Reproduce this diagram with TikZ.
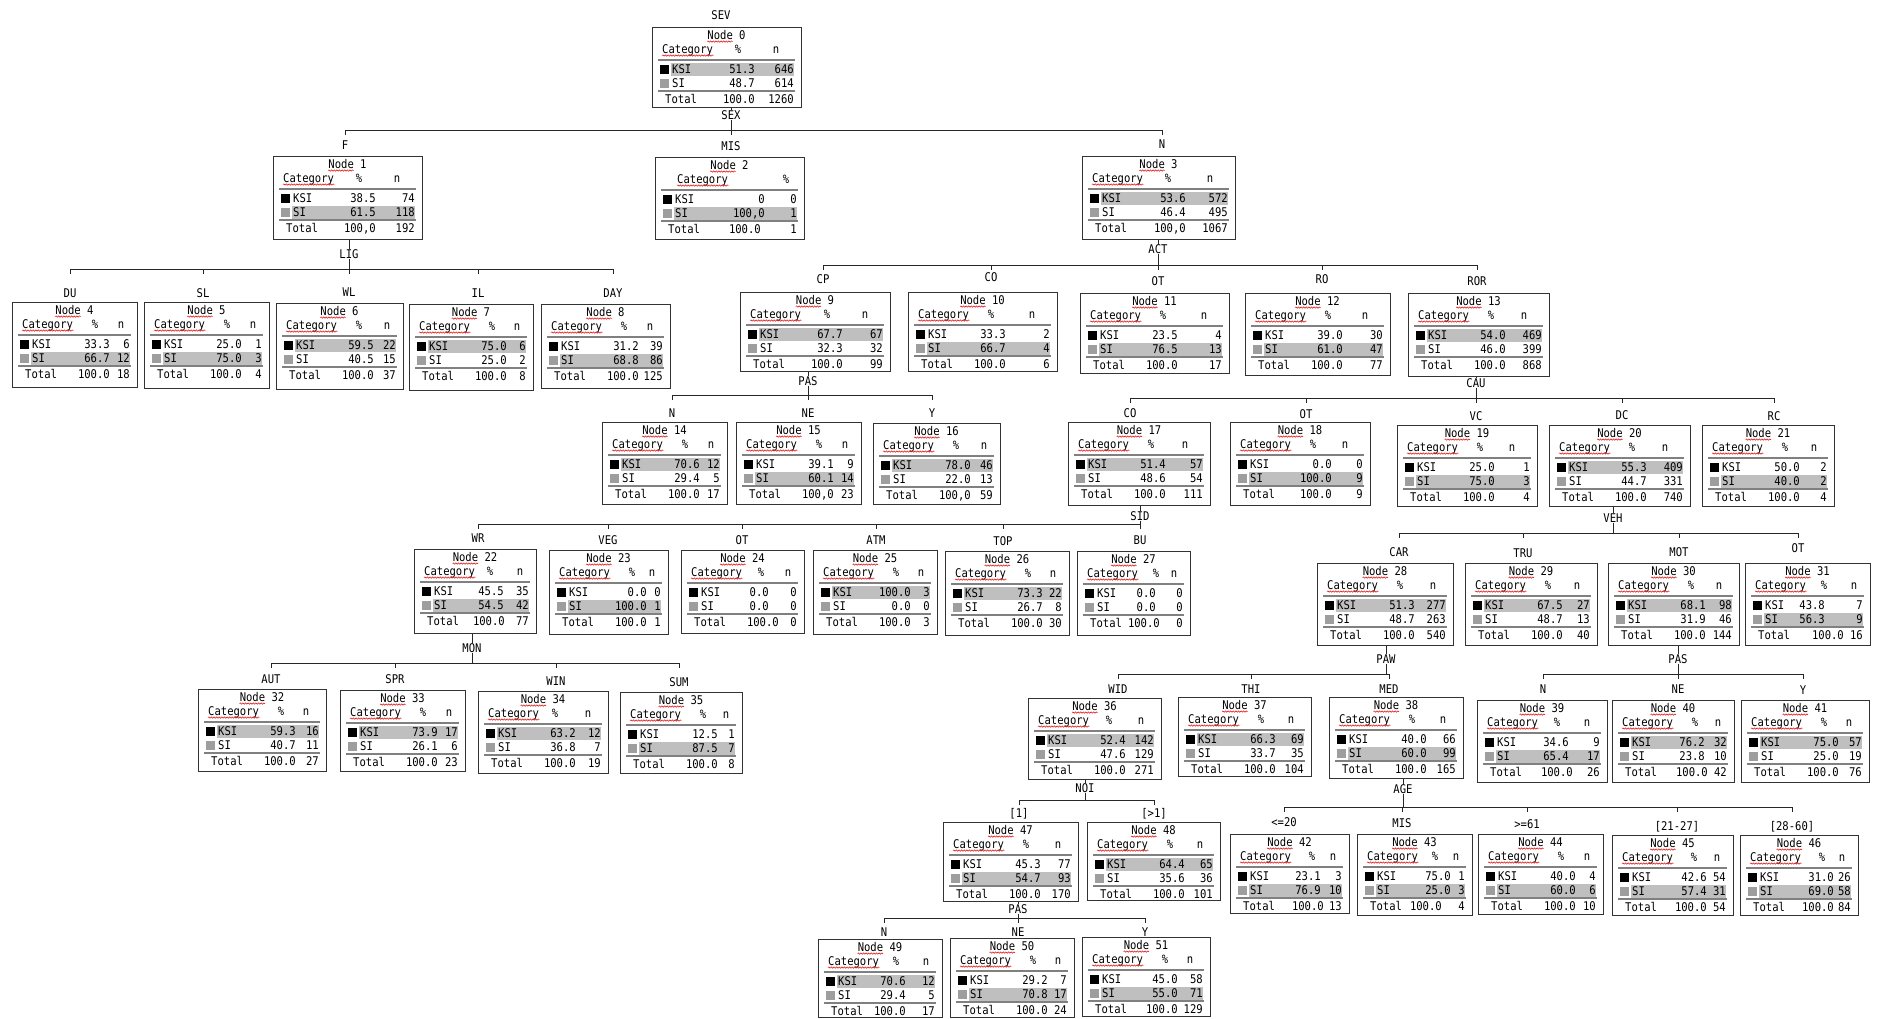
\documentclass[tikz,border=0pt]{standalone}
\usepackage{fontspec}
\newfontfamily\boxfont[FakeStretch=0.88]{DejaVu Sans Mono}
\usetikzlibrary{decorations.pathmorphing}
\tikzset{
  tbframe/.style={draw=black!80, line width=1.3pt, inner sep=0pt},
  txt/.style={font=\boxfont\fontsize{12pt}{12pt}\selectfont, inner sep=0pt, text height=8.7pt, text depth=0pt},
  conn/.style={draw=black!85, line width=1pt},
  tbrule/.style={draw=black!50, line width=2pt},
  tbhl/.style={fill=black!25},
  squig/.style={draw=red!90!black, line width=0.5pt, decorate, decoration={snake, amplitude=0.7pt, segment length=2.6pt}},
}
\newcommand\setcols[3]{\def\pctoff{#1}\def\totoff{#2}\def\pcthd{#3}}
\newcommand\resetcols{\setcols{98}{98}{83}}
\resetcols
\def\parsedata#1/#2/#3/#4/#5/#6\relax{\def\dA{#1}\def\dB{#2}\def\dC{#3}\def\dD{#4}\def\dE{#5}\def\dF{#6}}
% id L T R B highlight data header
\newcommand\treebox[8]{%
  \parsedata#7\relax
  \pgfmathsetmacro\tbW{#4-#2}\pgfmathsetmacro\tbH{#5-#3}%
  \pgfmathsetmacro\nhdv{\tbW<128?16:(\tbW<140?20:25)}%
  \ifnum#6=1 \fill[tbhl] (#2+19,#3+35.5) rectangle (#4-7,#3+48.5);\fi
  \ifnum#6=2 \fill[tbhl] (#2+19,#3+49.5) rectangle (#4-7,#3+62.5);\fi
  \node[tbframe, minimum width=\tbW pt, minimum height=\tbH pt, anchor=north west] (n#1) at (#2,#3) {};
  \node[txt] (t#1) at ({(#2+#4)/2},#3+8) {Node #1};
  \draw[squig] ([yshift=-2pt]t#1.south west) -- ++(25.5,0);
  \ifnum#8=0
    \node[txt, anchor=west] (k#1) at (#2+10,#3+22) {Category};
    \node[txt] at (#2+\pcthd,#3+22) {\%};
    \node[txt] at (#4-\nhdv,#3+22) {n};
  \else
    \node[txt, anchor=west] (k#1) at (#2+22,#3+22) {Category};
    \node[txt] at (#4-18,#3+22) {\%};
  \fi
  \draw[squig] ([yshift=-2pt]k#1.south west) -- ([yshift=-2pt]k#1.south east);
  \draw[tbrule] (#2+6,#3+33) -- (#4-6,#3+33);
  \draw[tbrule] (#2+6,#3+63.5) -- (#4-6,#3+63.5);
  \fill[black] (#2+8,#3+37.5) rectangle (#2+17,#3+46.5);
  \fill[black!38] (#2+8,#3+51.5) rectangle (#2+17,#3+60.5);
  \node[txt, anchor=west] at (#2+20,#3+42) {KSI};
  \node[txt, anchor=east] at (#2+\pctoff,#3+42) {\dA};
  \node[txt, anchor=east] at (#4-7,#3+42) {\dB};
  \node[txt, anchor=west] at (#2+20,#3+56) {SI};
  \node[txt, anchor=east] at (#2+\pctoff,#3+56) {\dC};
  \node[txt, anchor=east] at (#4-7,#3+56) {\dD};
  \node[txt, anchor=west] at (#2+13,#3+72) {Total};
  \node[txt, anchor=east] at (#2+\totoff,#3+72) {\dE};
  \node[txt, anchor=east] at (#4-7,#3+72) {\dF};
}
% parent, bar y, first child, last child, all children
\newcommand\splitconn[5]{%
  \coordinate (b#1) at (0,#2);
  \draw[conn] (s#1.north |- n#1.south) -- (s#1.north);
  \draw[conn] (s#1.south) -- (s#1.south |- b#1);
  \draw[conn] (e#3.north |- b#1) -- (e#4.north |- b#1);
  \foreach \c in {#5} {\draw[conn] (e\c.north |- b#1) -- ++(0,5);}
}
\begin{document}
\begin{tikzpicture}[x=1pt,y=-1pt]
\useasboundingbox (0,0) rectangle (1881,1018);
\fill[white] (0,0) rectangle (1881,1018);

% ---------- boxes ----------
\setcols{103}{103}{86}
\treebox{0}{652}{27}{801}{107}{1}{51.3/646/48.7/614/100.0/1260}{0}
\treebox{1}{273}{156}{422}{239}{2}{38.5/74/61.5/118/100,0/192}{0}
\setcols{110}{106}{86}
\treebox{2}{655}{157}{804}{239}{2}{0/0/100,0/1/100.0/1}{1}
\setcols{104}{104}{86}
\treebox{3}{1082}{156}{1235}{239}{1}{53.6/572/46.4/495/100,0/1067}{0}
\resetcols
\treebox{4}{12}{302}{137}{387}{2}{33.3/6/66.7/12/100.0/18}{0}
\treebox{5}{144}{302}{269}{388}{2}{25.0/1/75.0/3/100.0/4}{0}
\treebox{6}{276}{303}{403}{389}{1}{59.5/22/40.5/15/100.0/37}{0}
\treebox{7}{409}{304}{533}{390}{1}{75.0/6/25.0/2/100.0/8}{0}
\treebox{8}{541}{304}{670}{388}{2}{31.2/39/68.8/86/100.0/125}{0}
\setcols{103}{103}{87}
\treebox{9}{740}{292}{890}{371}{1}{67.7/67/32.3/32/100.0/99}{0}
\resetcols
\treebox{10}{908}{292}{1057}{371}{2}{33.3/2/66.7/4/100.0/6}{0}
\treebox{11}{1080}{293}{1229}{373}{2}{23.5/4/76.5/13/100.0/17}{0}
\treebox{12}{1245}{293}{1390}{375}{2}{39.0/30/61.0/47/100.0/77}{0}
\treebox{13}{1408}{293}{1549}{376}{1}{54.0/469/46.0/399/100.0/868}{0}
\treebox{14}{602}{422}{727}{504}{1}{70.6/12/29.4/5/100.0/17}{0}
\treebox{15}{736}{422}{861}{504}{2}{39.1/9/60.1/14/100,0/23}{0}
\treebox{16}{873}{423}{1000}{504}{1}{78.0/46/22.0/13/100,0/59}{0}
\treebox{17}{1068}{422}{1210}{505}{1}{51.4/57/48.6/54/100.0/111}{0}
\setcols{102}{102}{83}
\treebox{18}{1230}{422}{1370}{505}{2}{0.0/0/100.0/9/100.0/9}{0}
\resetcols
\treebox{19}{1397}{425}{1537}{506}{2}{25.0/1/75.0/3/100.0/4}{0}
\treebox{20}{1549}{425}{1690}{506}{1}{55.3/409/44.7/331/100.0/740}{0}
\treebox{21}{1702}{425}{1834}{506}{2}{50.0/2/40.0/2/100.0/4}{0}
\setcols{90}{91}{76}
\treebox{22}{414}{549}{536}{633}{2}{45.5/35/54.5/42/100.0/77}{0}
\resetcols
\treebox{23}{549}{550}{668}{634}{2}{0.0/0/100.0/1/100.0/1}{0}
\setcols{88}{98}{80}
\treebox{24}{681}{550}{804}{633}{0}{0.0/0/0.0/0/100.0/0}{0}
\resetcols
\treebox{25}{813}{550}{937}{634}{1}{100.0/3/0.0/0/100.0/3}{0}
\treebox{26}{945}{551}{1069}{635}{1}{73.3/22/26.7/8/100.0/30}{0}
\setcols{79}{83}{79}
\treebox{27}{1077}{551}{1190}{635}{0}{0.0/0/0.0/0/100.0/0}{0}
\resetcols
\treebox{28}{1317}{563}{1453}{645}{1}{51.3/277/48.7/263/100.0/540}{0}
\treebox{29}{1465}{563}{1597}{645}{1}{67.5/27/48.7/13/100.0/40}{0}
\treebox{30}{1608}{563}{1739}{645}{1}{68.1/98/31.9/46/100.0/144}{0}
\setcols{80}{99}{79}
\treebox{31}{1745}{563}{1870}{645}{2}{43.8/7/56.3/9/100.0/16}{0}
\resetcols
\treebox{32}{198}{689}{326}{771}{1}{59.3/16/40.7/11/100.0/27}{0}
\treebox{33}{340}{690}{465}{771}{1}{73.9/17/26.1/6/100.0/23}{0}
\setcols{98}{98}{77}
\treebox{34}{478}{691}{608}{773}{1}{63.2/12/36.8/7/100.0/19}{0}
\resetcols
\treebox{35}{620}{692}{742}{773}{2}{12.5/1/87.5/7/100.0/8}{0}
\setcols{98}{98}{81}
\treebox{36}{1028}{698}{1161}{779}{1}{52.4/142/47.6/129/100.0/271}{0}
\resetcols
\treebox{37}{1178}{697}{1311}{776}{1}{66.3/69/33.7/35/100.0/104}{0}
\treebox{38}{1329}{697}{1463}{778}{2}{40.0/66/60.0/99/100.0/165}{0}
\setcols{92}{96}{80}
\treebox{39}{1477}{700}{1607}{782}{2}{34.6/9/65.4/17/100.0/26}{0}
\setcols{93}{96}{83}
\treebox{40}{1612}{700}{1734}{782}{1}{76.2/32/23.8/10/100.0/42}{0}
\resetcols
\treebox{41}{1741}{700}{1869}{782}{1}{75.0/57/25.0/19/100.0/76}{0}
\setcols{91}{94}{82}
\treebox{42}{1230}{834}{1349}{913}{2}{23.1/3/76.9/10/100.0/13}{0}
\setcols{94}{85}{78}
\treebox{43}{1357}{834}{1472}{915}{2}{75.0/1/25.0/3/100.0/4}{0}
\resetcols
\treebox{44}{1478}{834}{1603}{914}{2}{40.0/4/60.0/6/100.0/10}{0}
\setcols{95}{95}{82}
\treebox{45}{1612}{835}{1733}{915}{2}{42.6/54/57.4/31/100.0/54}{0}
\setcols{94}{94}{82}
\treebox{46}{1740}{835}{1858}{915}{2}{31.0/26/69.0/58/100.0/84}{0}
\resetcols
\treebox{47}{943}{822}{1078}{901}{2}{45.3/77/54.7/93/100.0/170}{0}
\treebox{48}{1087}{822}{1220}{900}{1}{64.4/65/35.6/36/100.0/101}{0}
\setcols{88}{88}{78}
\treebox{49}{818}{939}{942}{1017}{1}{70.6/12/29.4/5/100.0/17}{0}
\resetcols
\treebox{50}{950}{938}{1074}{1017}{2}{29.2/7/70.8/17/100.0/24}{0}
\setcols{96}{96}{83}
\treebox{51}{1082}{937}{1210}{1016}{2}{45.0/58/55.0/71/100.0/129}{0}
\resetcols

% ---------- labels ----------
\node[txt] (top) at (721,15) {SEV};
% split variables
\node[txt] (s0) at (731,115) {SEX};
\node[txt] (s1) at (349,254) {LIG};
\node[txt] (s3) at (1158,249) {ACT};
\node[txt] (s9) at (808,381) {PAS};
\node[txt] (s13) at (1476,383) {CAU};
\node[txt] (s17) at (1140,516) {SID};
\node[txt] (s20) at (1613,518) {VEH};
\node[txt] (s22) at (472,648) {MON};
\node[txt] (s28) at (1386,659) {PAW};
\node[txt] (s30) at (1678,659) {PAS};
\node[txt] (s36) at (1085,788) {NOI};
\node[txt] (s38) at (1403,789) {AGE};
\node[txt] (s47) at (1018,909) {PAS};
% categories
\node[txt] (e1) at (345,145) {F};
\node[txt] (e2) at (731,146) {MIS};
\node[txt] (e3) at (1162,144) {N};
\node[txt] (e4) at (70,293) {DU};
\node[txt] (e5) at (203,293) {SL};
\node[txt] (e6) at (349,292) {WL};
\node[txt] (e7) at (478,293) {IL};
\node[txt] (e8) at (613,293) {DAY};
\node[txt] (e9) at (823,279) {CP};
\node[txt] (e10) at (991,277) {CO};
\node[txt] (e11) at (1158,281) {OT};
\node[txt] (e12) at (1322,279) {RO};
\node[txt] (e13) at (1477,281) {ROR};
\node[txt] (e14) at (672,413) {N};
\node[txt] (e15) at (808,413) {NE};
\node[txt] (e16) at (932,413) {Y};
\node[txt] (e17) at (1130,413) {CO};
\node[txt] (e18) at (1306,414) {OT};
\node[txt] (e19) at (1476,416) {VC};
\node[txt] (e20) at (1622,415) {DC};
\node[txt] (e21) at (1774,416) {RC};
\node[txt] (e22) at (478,538) {WR};
\node[txt] (e23) at (608,540) {VEG};
\node[txt] (e24) at (742,540) {OT};
\node[txt] (e25) at (876,540) {ATM};
\node[txt] (e26) at (1003,541) {TOP};
\node[txt] (e27) at (1140,540) {BU};
\node[txt] (e28) at (1399,552) {CAR};
\node[txt] (e29) at (1523,553) {TRU};
\node[txt] (e30) at (1679,552) {MOT};
\node[txt] (e31) at (1798,548) {OT};
\node[txt] (e32) at (271,679) {AUT};
\node[txt] (e33) at (395,679) {SPR};
\node[txt] (e34) at (556,681) {WIN};
\node[txt] (e35) at (679,682) {SUM};
\node[txt] (e36) at (1118,689) {WID};
\node[txt] (e37) at (1251,689) {THI};
\node[txt] (e38) at (1389,689) {MED};
\node[txt] (e39) at (1543,689) {N};
\node[txt] (e40) at (1678,689) {NE};
\node[txt] (e41) at (1803,690) {Y};
\node[txt] (e47) at (1019,813) {[1]};
\node[txt] (e48) at (1154,813) {[>1]};
\node[txt] (e42) at (1284,822) {<=20};
\node[txt] (e43) at (1402,823) {MIS};
\node[txt] (e44) at (1527,824) {>=61};
\node[txt] (e45) at (1677,826) {[21-27]};
\node[txt] (e46) at (1792,826) {[28-60]};
\node[txt] (e49) at (884,932) {N};
\node[txt] (e50) at (1018,932) {NE};
\node[txt] (e51) at (1145,932) {Y};

% ---------- connectors ----------
\splitconn{0}{130}{1}{3}{1,2,3}
\splitconn{1}{269}{4}{8}{4,5,6,7,8}
\splitconn{3}{265}{9}{13}{9,10,11,12,13}
\splitconn{9}{395}{14}{16}{14,15,16}
\splitconn{13}{398}{17}{21}{17,18,19,20,21}
\splitconn{17}{524}{22}{27}{22,23,24,25,26,27}
\splitconn{20}{533}{28}{31}{28,29,30,31}
\splitconn{22}{663}{32}{35}{32,33,34,35}
\splitconn{28}{674}{36}{38}{36,37,38}
\splitconn{30}{674}{39}{41}{39,40,41}
\splitconn{36}{800}{47}{48}{47,48}
\splitconn{38}{807}{42}{46}{42,43,44,45,46}
\splitconn{47}{918}{49}{51}{49,50,51}
\end{tikzpicture}
\end{document}
